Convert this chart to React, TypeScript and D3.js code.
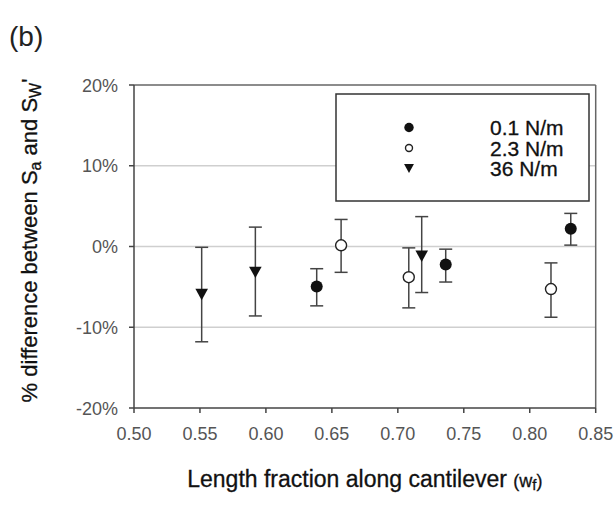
import React from "react";
import * as d3 from "d3";

// ---- data (percent values) ----
const seriesNames = ["0.1 N/m", "2.3 N/m", "36 N/m"];

const s01X = [0.6385, 0.7363, 0.8311];
const s01Y = [-4.95, -2.24, 2.2];
const s01Hi = [-2.75, -0.33, 4.1];
const s01Lo = [-7.35, -4.4, 0.17];

const s23X = [0.657, 0.7083, 0.8161];
const s23Y = [0.15, -3.8, -5.27];
const s23Hi = [3.35, -0.17, -2.03];
const s23Lo = [-3.2, -7.6, -8.76];

const s36X = [0.5513, 0.592, 0.7181];
const s36Y = [-5.95, -3.2, -1.2];
const s36Hi = [-0.1, 2.4, 3.7];
const s36Lo = [-11.8, -8.6, -5.7];

const xTicks = [0.5, 0.55, 0.6, 0.65, 0.7, 0.75, 0.8, 0.85];
const yTicks = [-20, -10, 0, 10, 20];
const gridTicks = [-10, 0, 10];

const W = 615;
const H = 506;
const left = 134;
const right = 595.7;
const top = 85;
const bottom = 408;

const FONT = "'Liberation Sans', Arial, sans-serif";

type Pt = { x: number; y: number; hi: number; lo: number };

function build(xs: number[], ys: number[], his: number[], los: number[]): Pt[] {
  return xs.map((x, i) => ({ x, y: ys[i], hi: his[i], lo: los[i] }));
}

const series = [
  { name: seriesNames[0], kind: "filled", pts: build(s01X, s01Y, s01Hi, s01Lo) },
  { name: seriesNames[1], kind: "open", pts: build(s23X, s23Y, s23Hi, s23Lo) },
  { name: seriesNames[2], kind: "tri", pts: build(s36X, s36Y, s36Hi, s36Lo) },
];

function Marker({ kind, cx, cy, s }: { kind: string; cx: number; cy: number; s: number }) {
  if (kind === "filled") return <circle cx={cx} cy={cy} r={s} fill="#111" />;
  if (kind === "open")
    return <circle cx={cx} cy={cy} r={s - 0.5} fill="#fff" stroke="#222" strokeWidth={1.4} />;
  const w = s * 1.05;
  const h = s * 0.95;
  return (
    <path
      d={`M${cx - w},${cy - h} L${cx + w},${cy - h} L${cx},${cy + h} Z`}
      fill="#111"
    />
  );
}

export default function App() {
  const x = d3.scaleLinear().domain([0.5, 0.85]).range([left, right]);
  const y = d3.scaleLinear().domain([-20, 20]).range([bottom, top]);
  const cap = 6.5;

  const legX = 336;
  const legY = 94;
  const legW = 253;
  const legH = 107;
  const rowY = [127.5, 148, 168.5];

  return (
    <svg width={W} height={H} style={{ position: "absolute", left: 0, top: 0, background: "#fff" }} fontFamily={FONT}>
      <rect x={0} y={0} width={W} height={H} fill="#fff" />
      <text x={9} y={46} fontSize={28} fill="#222">(b)</text>

      {/* gridlines */}
      {gridTicks.map((t) => (
        <line key={t} x1={left} x2={right} y1={y(t)} y2={y(t)} stroke="#cfcfcf" strokeWidth={1.5} />
      ))}

      {/* frame */}
      <line x1={left} x2={right} y1={top} y2={top} stroke="#666" strokeWidth={1.5} />
      <line x1={right} x2={right} y1={top} y2={bottom} stroke="#666" strokeWidth={1.5} />
      <line x1={left} x2={left} y1={top} y2={bottom} stroke="#444" strokeWidth={1.5} />
      <line x1={left} x2={right} y1={bottom} y2={bottom} stroke="#444" strokeWidth={1.5} />

      {/* y ticks */}
      {yTicks.map((t) => (
        <g key={t}>
          <line x1={left - 5} x2={left} y1={y(t)} y2={y(t)} stroke="#444" strokeWidth={1.5} />
          <text x={118} y={y(t) + 6.5} fontSize={18} fill="#555" textAnchor="end">
            {`${t}%`}
          </text>
        </g>
      ))}

      {/* x ticks */}
      {xTicks.map((t) => (
        <g key={t}>
          <line x1={x(t)} x2={x(t)} y1={bottom} y2={bottom + 5} stroke="#444" strokeWidth={1.5} />
          <text x={x(t)} y={440} fontSize={18} fill="#555" textAnchor="middle">
            {t.toFixed(2)}
          </text>
        </g>
      ))}

      {/* legend */}
      <rect x={legX} y={legY} width={legW} height={legH} fill="#fff" stroke="#333" strokeWidth={1.5} />
      {series.map((s, i) => (
        <g key={s.name}>
          <Marker kind={s.kind} cx={409} cy={rowY[i]} s={s.kind === "open" ? 4 : 4.7} />
          <text x={490} y={rowY[i] + 7.5} fontSize={21} fill="#111" stroke="#111" strokeWidth={0.3}>
            {s.name}
          </text>
        </g>
      ))}

      {/* error bars + markers */}
      {series.map((s) => (
        <g key={s.name}>
          {s.pts.map((p, i) => (
            <g key={i} stroke="#444" strokeWidth={1.5}>
              <line x1={x(p.x)} x2={x(p.x)} y1={y(p.hi)} y2={y(p.lo)} />
              <line x1={x(p.x) - cap} x2={x(p.x) + cap} y1={y(p.hi)} y2={y(p.hi)} />
              <line x1={x(p.x) - cap} x2={x(p.x) + cap} y1={y(p.lo)} y2={y(p.lo)} />
            </g>
          ))}
          {s.pts.map((p, i) => (
            <Marker key={`m${i}`} kind={s.kind} cx={x(p.x)} cy={y(p.y)} s={6} />
          ))}
        </g>
      ))}

      {/* axis titles */}
      <text
        transform={`translate(37, ${(top + bottom) / 2 - 6}) rotate(-90)`}
        textAnchor="middle"
        fontSize={22}
        fill="#111"
        stroke="#111"
        strokeWidth={0.3}
      >
        <tspan>% difference between S</tspan>
        <tspan fontSize={16} dy={4}>a</tspan>
        <tspan dy={-4}> and S</tspan>
        <tspan fontSize={16} dy={4}>W</tspan>
        <tspan dy={-4}>'</tspan>
      </text>
      <text
        x={(left + right) / 2}
        y={487}
        textAnchor="middle"
        fontSize={23}
        fill="#111"
        stroke="#111"
        strokeWidth={0.3}
      >
        <tspan>Length fraction along cantilever </tspan>
        <tspan fontSize={18}>(w</tspan>
        <tspan fontSize={15} dy={3}>f</tspan>
        <tspan fontSize={18} dy={-3}>)</tspan>
      </text>
    </svg>
  );
}
